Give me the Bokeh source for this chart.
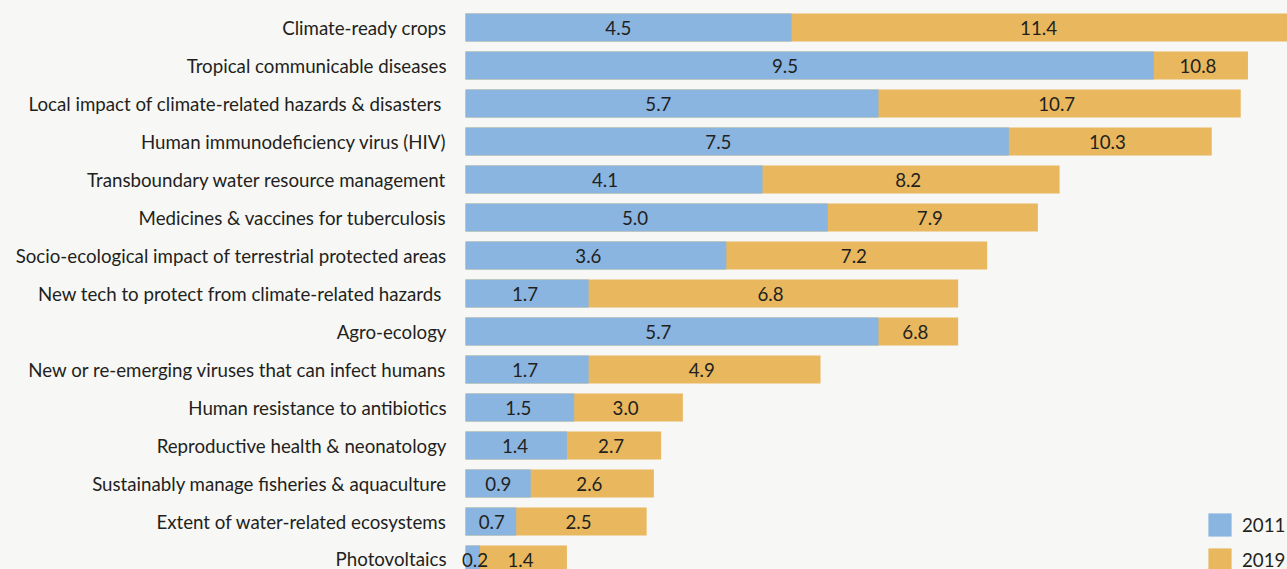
from bokeh.plotting import figure
from bokeh.models import Range1d, FixedTicker, Legend, LegendItem, ColumnDataSource
from bokeh.core.properties import value
from bokeh.embed import file_html
from bokeh.resources import INLINE

categories = [
    "Climate-ready crops",
    "Tropical communicable diseases",
    "Local impact of climate-related hazards & disasters ",
    "Human immunodeficiency virus (HIV)",
    "Transboundary water resource management",
    "Medicines & vaccines for tuberculosis",
    "Socio-ecological impact of terrestrial protected areas",
    "New tech to protect from climate-related hazards ",
    "Agro-ecology",
    "New or re-emerging viruses that can infect humans",
    "Human resistance to antibiotics",
    "Reproductive health & neonatology",
    "Sustainably manage fisheries & aquaculture",
    "Extent of water-related ecosystems",
    "Photovoltaics",
]
values_2011 = [4.5, 9.5, 5.7, 7.5, 4.1, 5.0, 3.6, 1.7, 5.7, 1.7, 1.5, 1.4, 0.9, 0.7, 0.2]
values_2019 = [11.4, 10.8, 10.7, 10.3, 8.2, 7.9, 7.2, 6.8, 6.8, 4.9, 3.0, 2.7, 2.6, 2.5, 1.4]
series_names = ["2011", "2019"]

BLUE = "#8AB5E0"
ORANGE = "#E8B75E"
BG = "#F7F7F5"
TXT = "#231F20"
FONT = "Lato"
FS = "18.7px"

PX = 72.45          # pixels per unit
W, H = 1287, 569
LEFT = 455
x0 = -10 / PX
x1 = x0 + (W - LEFT) / PX
ytop = -27 / 38

ypos = list(range(len(categories)))

src = ColumnDataSource(dict(
    y=ypos,
    v11=values_2011,
    v19=values_2019,
    lab11=[f"{v:.1f}" for v in values_2011],
    lab19=[f"{v:.1f}" for v in values_2019],
    x11=[0.46 * v + 0.04 for v in values_2011],
    x19=[(a + b) / 2 - 0.04 for a, b in zip(values_2011, values_2019)],
))

p = figure(width=W, height=H, output_backend="svg", toolbar_location=None,
           x_range=Range1d(x0, x1), y_range=Range1d(ytop + H / 38, ytop),
           min_border_left=LEFT, min_border_right=0, min_border_top=0, min_border_bottom=0)
p.background_fill_color = BG
p.border_fill_color = BG
p.outline_line_color = None
p.grid.visible = False
p.xaxis.visible = False

h = 28 / 38
r19 = p.hbar(y="y", left=0, right="v19", height=h, color=ORANGE, line_color=None, source=src)
r11 = p.hbar(y="y", left=0, right="v11", height=h, color=BLUE, line_color=None, source=src)

p.text(x="x11", y="y", text="lab11", text_align="center", text_baseline="middle",
       text_font=value(FONT), text_font_size=FS, text_color=TXT, source=src)
p.text(x="x19", y="y", text="lab19", text_align="center", text_baseline="middle",
       text_font=value(FONT), text_font_size=FS, text_color=TXT, source=src)

ya = p.yaxis[0]
ya.ticker = FixedTicker(ticks=ypos)
ya.major_label_overrides = {i: c for i, c in enumerate(categories)}
ya.axis_line_color = None
ya.major_tick_line_color = None
ya.minor_tick_line_color = None
ya.major_tick_out = 0
ya.major_tick_in = 0
ya.major_label_standoff = 9
ya.major_label_text_font = FONT
ya.major_label_text_font_size = FS
ya.major_label_text_color = TXT

legend = Legend(items=[LegendItem(label=series_names[0], renderers=[r11]),
                       LegendItem(label=series_names[1], renderers=[r19])],
                location=(750, -5), orientation="vertical",
                glyph_width=29, glyph_height=29, spacing=6, padding=0, margin=0,
                label_standoff=8, label_text_font=FONT, label_text_font_size=FS,
                label_text_color=TXT, background_fill_alpha=0, border_line_color=None)
p.add_layout(legend)

html = file_html(p, INLINE)
html = html.replace("<head>", "<head><style>body{background:#F7F7F5;}</style>", 1)
open("out.html", "w").write(html)
